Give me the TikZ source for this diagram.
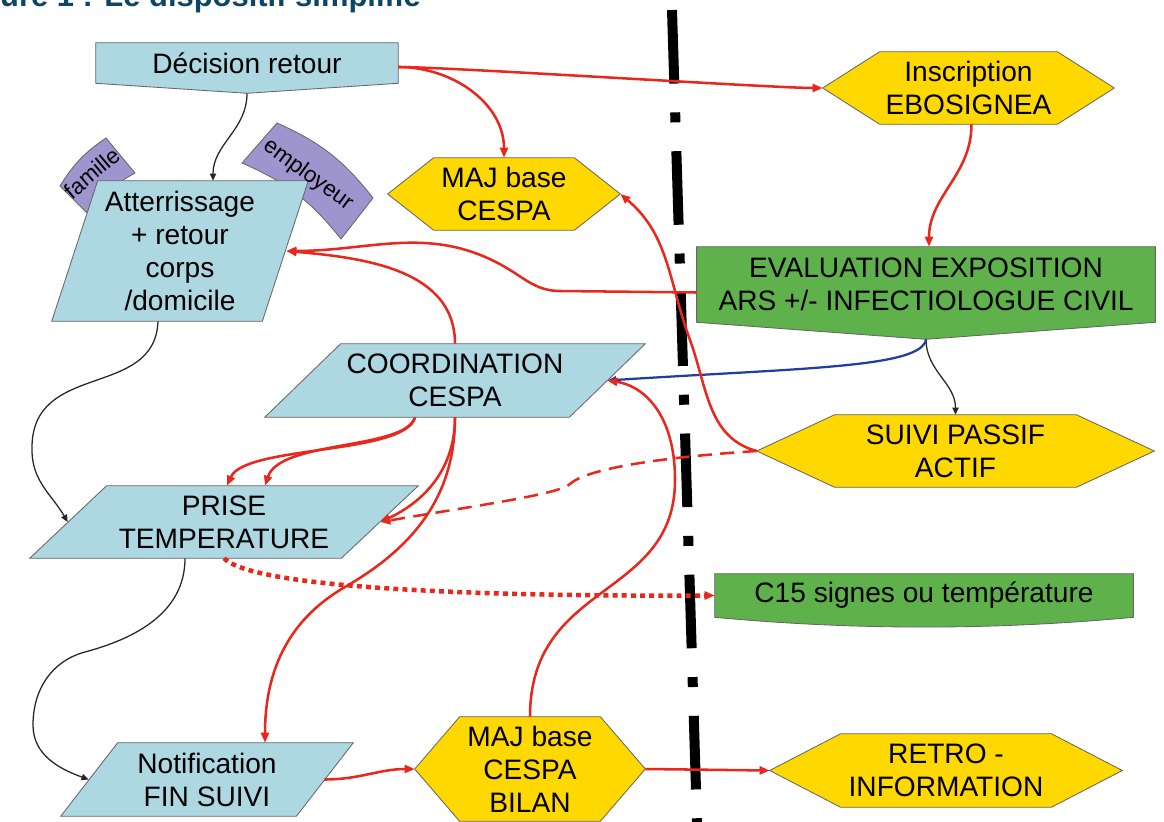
\documentclass[tikz,border=0pt]{standalone}
\usepackage{fontspec}
\setmainfont{Liberation Sans}
\usetikzlibrary{arrows.meta, calc, backgrounds}

\definecolor{bleuclair}{RGB}{173,216,226}
\definecolor{jaune}{RGB}{255,216,0}
\definecolor{vertbox}{RGB}{95,178,75}
\definecolor{mauve}{RGB}{158,149,206}
\definecolor{rouge}{RGB}{232,40,28}
\definecolor{bleutrait}{RGB}{35,60,160}
\definecolor{titre}{RGB}{12,70,100}

\begin{document}
\begin{tikzpicture}[x=0.025cm, y=-0.025cm,
	txt/.style={inner sep=0pt, align=center, font=\fontsize{20}{23.5}\selectfont},
	forme/.style={draw=black!60, line width=0.6pt},
	etiquette/.style={inner sep=0pt, font=\fontsize{16}{18}\selectfont},
	fleche/.style={rouge, line width=1.8pt, -{Triangle[length=2.5mm, width=2mm]}},
	lien/.style={black!85, line width=0.9pt, -{Triangle[length=1.8mm, width=1.6mm]}}]
	\useasboundingbox (0,0) rectangle (1164,822);
	\clip (0,0) rectangle (1164,822);

	% titre, coupe en haut
	\node[anchor=base east, inner sep=0pt, text=titre, font=\bfseries\fontsize{22}{26}\selectfont] (titre) at (421,7) {Figure 1 : Le dispositif simplifié};

	% boites
	\node[txt, minimum width=7.55cm, minimum height=1cm] (decis) at (247,63) {Décision retour};
	\node[txt, minimum width=6.4cm, minimum height=3.5cm] (atter) at (180,251) {Atterrissage\\+ retour\\corps\\/domicile};
	\node[txt, minimum width=5.8cm, minimum height=1.8cm] (majA) at (504,194) {MAJ base\\CESPA};
	\node[txt, minimum width=7.275cm, minimum height=1.8cm] (inscr) at (968.5,88) {Inscription\\EBOSIGNEA};
	\node[txt, minimum width=11.45cm, minimum height=1.875cm] (eval) at (926,284.5) {EVALUATION EXPOSITION\\ARS +/- INFECTIOLOGUE CIVIL};
	\node[txt, minimum width=9.5cm, minimum height=1.825cm] (coord) at (455,380.5) {COORDINATION\\CESPA};
	\node[txt, minimum width=9.7cm, minimum height=1.8cm] (prise) at (224,522) {PRISE\\TEMPERATURE};
	\node[txt, minimum width=9.925cm, minimum height=1.8cm] (suivi) at (955.5,451) {SUIVI PASSIF\\ACTIF};
	\node[txt, minimum width=10.45cm, minimum height=1.075cm] (c15) at (924,595.5) {C15 signes ou température};
	\node[txt, minimum width=7.3cm, minimum height=1.825cm] (notif) at (207,779.5) {Notification\\FIN SUIVI};
	\node[txt, minimum width=5.75cm, minimum height=2.6cm] (bilan) at (530,769) {MAJ base\\CESPA\\BILAN};
	\node[txt, minimum width=8.8cm, minimum height=1.825cm] (retro) at (946,770.5) {RETRO -\\INFORMATION};
	% etiquettes violettes
	\node[etiquette, rotate=40] (fam) at (92,173) {famille};
	\node[etiquette, rotate=-36] (empl) at (308,175) {employeur};

	\begin{pgfonlayer}{background}
		% bandeaux derriere le parallelogramme
		\filldraw[forme, fill=mauve] (60,186) to[bend left=12] (106,138) -- (135,173) to[bend right=12] (88,214) -- cycle;
		\filldraw[forme, fill=mauve] (242,163) -- (277,123) to[bend left=14] (373,198) -- (341,239) to[bend right=14] cycle;
		% formes sous le texte
		\filldraw[forme, fill=bleuclair] (decis.north west) -- (decis.north east) -- (decis.south east) -- ($(decis.south)+(0,10)$) -- (decis.south west) -- cycle;
		\filldraw[forme, fill=bleuclair] (atter.south west) -- ($(atter.north west)+(46,0)$) -- (atter.north east) -- ($(atter.south east)-(46,0)$) -- cycle;
		\filldraw[forme, fill=jaune] (majA.west) -- ($(majA.north west)+(46,0)$) -- ($(majA.north east)-(46,0)$) -- (majA.east) -- ($(majA.south east)-(46,0)$) -- ($(majA.south west)+(46,0)$) -- cycle;
		\filldraw[forme, fill=jaune] (inscr.west) -- ($(inscr.north west)+(57,0)$) -- ($(inscr.north east)-(57,0)$) -- (inscr.east) -- ($(inscr.south east)-(57,0)$) -- ($(inscr.south west)+(57,0)$) -- cycle;
		\filldraw[forme, fill=vertbox] (eval.north west) -- (eval.north east) -- (eval.south east) -- ($(eval.south)+(0,17)$) -- (eval.south west) -- cycle;
		\filldraw[forme, fill=bleuclair] (coord.south west) -- ($(coord.north west)+(76,0)$) -- (coord.north east) -- ($(coord.south east)-(76,0)$) -- cycle;
		\filldraw[forme, fill=bleuclair] (prise.south west) -- ($(prise.north west)+(77,0)$) -- (prise.north east) -- ($(prise.south east)-(77,0)$) -- cycle;
		\filldraw[forme, fill=jaune] (suivi.west) -- ($(suivi.north west)+(78,0)$) -- ($(suivi.north east)-(78,0)$) -- (suivi.east) -- ($(suivi.south east)-(78,0)$) -- ($(suivi.south west)+(78,0)$) -- cycle;
		\filldraw[forme, fill=vertbox] (c15.north west) -- (c15.north east) -- (c15.south east) .. controls ($(c15.south)+(70,13)$) and ($(c15.south)+(-70,13)$) .. (c15.south west) -- cycle;
		\filldraw[forme, fill=bleuclair] (notif.south west) -- ($(notif.north west)+(57,0)$) -- (notif.north east) -- ($(notif.south east)-(57,0)$) -- cycle;
		\filldraw[forme, fill=jaune] (bilan.west) -- ($(bilan.north west)+(45,0)$) -- ($(bilan.north east)-(45,0)$) -- (bilan.east) -- ($(bilan.south east)-(45,0)$) -- ($(bilan.south west)+(45,0)$) -- cycle;
		\filldraw[forme, fill=jaune] (retro.west) -- ($(retro.north west)+(71,0)$) -- ($(retro.north east)-(71,0)$) -- (retro.east) -- ($(retro.south east)-(71,0)$) -- ($(retro.south west)+(71,0)$) -- cycle;
	\end{pgfonlayer}

	% frontiere
	\draw[black, line width=0.25cm, dash pattern=on 1.84cm off 0.72cm on 0.25cm off 0.72cm] (672,10) -- (697,822);

	% liens noirs
	\draw[lien] ($(decis.south)+(0,10)$) to[out=-90, in=90] ($(atter.north)+(33,0)$);
	\draw[lien] ($(atter.south)+(-22,0)$) .. controls (155,400) and (30,360) .. (32,450) to[out=-90, in=120] ($(prise.west)+(38,0)$);
	\draw[lien] ($(prise.south)+(-39,0)$) to[out=-90, in=15] (85,652) to[out=195, in=90] (33,725) to[out=-90, in=160] ($(notif.west)+(28,0)$);
	\draw[lien] ($(eval.south)+(0,17)$) to[out=-90, in=90] (suivi.north);
	\draw[bleutrait, line width=1.6pt, -{Triangle[length=2.2mm, width=1.8mm]}] ($(eval.south)+(0,17)$) .. controls (922,368) and (800,368) .. ($(coord.east)-(38,0)$);

	% liens rouges
	\draw[fleche] ($(decis.east)+(0,4)$) to[out=0, in=180, looseness=0.3] (inscr.west);
	\draw[fleche] ($(decis.east)+(0,4)$) to[out=0, in=90] (majA.north);
	\draw[fleche] ($(inscr.south)+(3,0)$) to[out=-90, in=90] ($(eval.north)+(3,0)$);
	\draw[fleche] ($(eval.west)+(0,8)$) -- (560,291) to[out=180, in=-30] (505,267) to[out=150, in=0] ($(atter.east)-(22,0)$);
	\draw[fleche] (coord.north) to[out=90, in=-5] ($(atter.east)-(22,0)$);
	\draw[fleche] (suivi.west) to[out=165, in=-70] (690,340) to[out=110, in=-40] (majA.east);
	\draw[fleche] ($(coord.south)+(-40,0)$) .. controls (405,450) and (280,440) .. ($(prise.north)+(41,0)$);
	\draw[fleche] ($(coord.south)+(-40,0)$) .. controls (405,455) and (245,445) .. ($(prise.north)+(3,0)$);
	\draw[fleche] (coord.south) to[out=-90, in=25] ($(prise.east)-(38,0)$);
	\draw[fleche] (coord.south) to[out=-90, in=30] (345,587) to[out=210, in=90] ($(notif.north)+(58,0)$);
	\draw[fleche] ($(notif.east)-(29,0)$) to[out=0, in=180] (bilan.west);
	\draw[fleche] (bilan.north) .. controls (530,580) and (675,600) .. (675,480) .. controls (675,410) and (640,385) .. ($(coord.east)-(38,0)$);
	\draw[fleche] (bilan.east) -- (retro.west);
	\draw[fleche, dash pattern=on 10pt off 6pt] (suivi.west) .. controls (650,458) and (585,470) .. (570,484) .. controls (560,494) and (480,505) .. ($(prise.east)-(38,0)$);
	\draw[fleche, line width=3.2pt, dash pattern=on 3.5pt off 3pt] (prise.south) to[out=-45, in=180, looseness=0.3] (c15.west);
\end{tikzpicture}
\end{document}
